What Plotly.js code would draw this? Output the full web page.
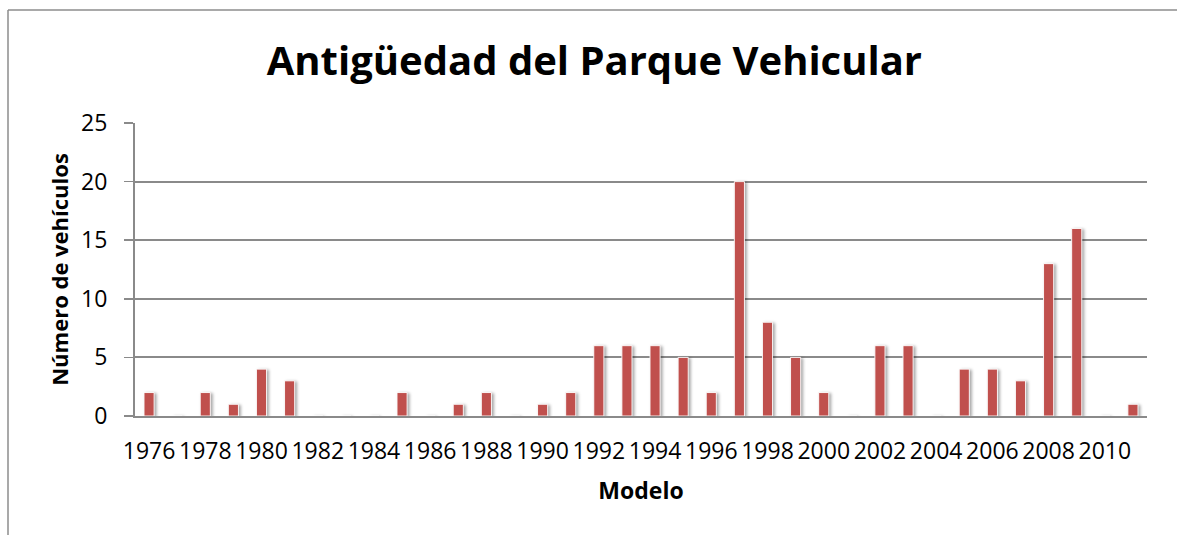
<!DOCTYPE html>
<html>
<head>
<meta charset="utf-8">
<script src="https://cdn.plot.ly/plotly-3.0.1.min.js"></script>
<style>
  html, body { margin: 0; padding: 0; background: #ffffff; }
  #chart { width: 1177px; height: 535px; }
  .barlayer .point path { filter: drop-shadow(2px 1px 1.5px rgba(0,0,0,0.35)); }
</style>
</head>
<body>
<div id="chart"></div>
<script>
// Data
const years = ["1976","1977","1978","1979","1980","1981","1982","1983","1984","1985",
               "1986","1987","1988","1989","1990","1991","1992","1993","1994","1995",
               "1996","1997","1998","1999","2000","2001","2002","2003","2004","2005",
               "2006","2007","2008","2009","2010","2011"];
const vehicles = [2,0,2,1,4,3,0,0,0,2,
                  0,1,2,0,1,2,6,6,6,5,
                  2,20,8,5,2,0,6,6,0,4,
                  4,3,13,16,0,1];
const tickYears = ["1976","1978","1980","1982","1984","1986","1988","1990","1992","1994",
                   "1996","1998","2000","2002","2004","2006","2008","2010"];
const yTicks = [0,5,10,15,20,25];

const chartTitle = "Antigüedad del Parque Vehicular";
const xTitle = "Modelo";
const yTitle = "Número de vehículos";

const W = 1177, H = 535;
const m = {l: 135, r: 30, t: 123, b: 119};
const pw = W - m.l - m.r, ph = H - m.t - m.b;
// outer chart-frame border (left and top edges visible)
const fx = (8 - m.l) / pw, fy = (H - m.b - 10) / ph;

const trace = {
  type: 'bar',
  x: years,
  y: vehicles,
  width: 0.36,
  marker: { color: '#C0504D', line: { color: 'rgba(255,255,255,0.9)', width: 1 } },
  hoverinfo: 'x+y'
};

const layout = {
  width: W, height: H,
  margin: m,
  paper_bgcolor: '#ffffff',
  plot_bgcolor: '#ffffff',
  showlegend: false,
  font: { family: '"Open Sans", sans-serif', color: '#000000' },
  title: {
    text: '<b>' + chartTitle + '</b>',
    font: { family: '"Open Sans", sans-serif', size: 40, color: '#000000' },
    x: 0.505, xref: 'container', xanchor: 'center',
    y: 1 - 61 / H, yref: 'container', yanchor: 'middle'
  },
  xaxis: {
    type: 'category',
    categoryorder: 'array',
    categoryarray: years,
    tickmode: 'array',
    tickvals: tickYears,
    ticktext: tickYears,
    tickangle: 0,
    ticks: '',
    tickfont: { size: 23, color: '#000000' },
    ticklabelstandoff: 13,
    showline: true,
    linecolor: '#8a8a8a',
    linewidth: 2,
    showgrid: false,
    zeroline: false,
    title: { text: '<b>' + xTitle + '</b>', font: { size: 23, color: '#000000' }, standoff: 18 },
    automargin: false,
    fixedrange: true
  },
  yaxis: {
    range: [0, 25],
    tickmode: 'array',
    tickvals: yTicks,
    ticks: 'outside',
    ticklen: 9,
    tickwidth: 1.5,
    tickcolor: '#8a8a8a',
    tickfont: { size: 23, color: '#000000' },
    ticklabelstandoff: 12,
    showline: true,
    linecolor: '#8a8a8a',
    linewidth: 2,
    showgrid: true,
    gridcolor: '#8a8a8a',
    gridwidth: 2,
    zeroline: false,
    title: { text: '<b>' + yTitle + '</b>', font: { size: 22, color: '#000000' }, standoff: 6 },
    automargin: false,
    fixedrange: true
  },
  shapes: [
    { type: 'line', xref: 'paper', yref: 'paper', x0: fx, x1: 1.2, y0: fy, y1: fy,
      line: { color: '#8c8c8c', width: 1.5 } },
    { type: 'line', xref: 'paper', yref: 'paper', x0: fx, x1: fx, y0: fy, y1: -1,
      line: { color: '#8c8c8c', width: 1.5 } }
  ]
};

Plotly.newPlot('chart', [trace], layout, { displayModeBar: false, staticPlot: true });
</script>
</body>
</html>
